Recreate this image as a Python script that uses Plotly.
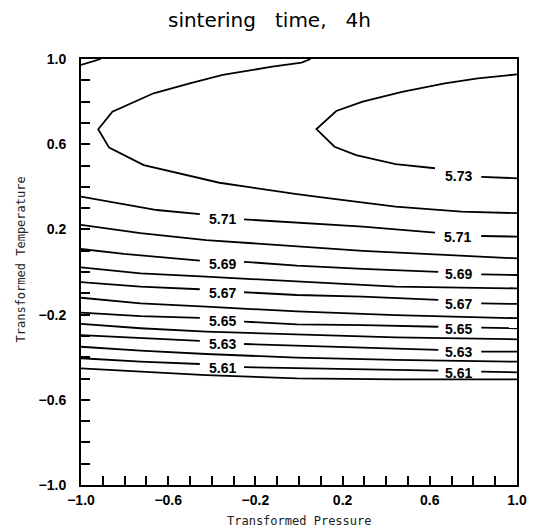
import plotly.graph_objects as go

# Contour lines (x = Transformed Pressure, y = Transformed Temperature)
# None marks a gap in the line where the level label sits.
corner_571_x = [-1.0, -0.931, -0.909]
corner_571_y = [0.972, 0.995, 1.0]

c572_x = [0.053, 0.012, -0.123, -0.350, -0.501, -0.667, -0.856, -0.921, -0.871, -0.712, -0.365, -0.169, -0.010, 0.141, 0.443, 0.745, 1.0]
c572_y = [1.0, 0.983, 0.964, 0.925, 0.886, 0.839, 0.753, 0.670, 0.584, 0.502, 0.419, 0.388, 0.366, 0.346, 0.307, 0.283, 0.276]

c573_x = [1.0, 0.820, 0.669, 0.473, 0.292, 0.171, 0.080, 0.163, 0.262, 0.443, 0.624, None, 0.836, 1.0]
c573_y = [0.928, 0.909, 0.886, 0.846, 0.800, 0.756, 0.671, 0.588, 0.549, 0.506, 0.487, None, 0.447, 0.440]

c571_x = [-1.0, -0.848, -0.652, -0.455, None, -0.252, -0.010, 0.292, 0.624, None, 0.836, 1.0]
c571_y = [0.354, 0.325, 0.291, 0.272, None, 0.247, 0.231, 0.213, 0.185, None, 0.169, 0.166]

c570_x = [-1.0, -0.727, -0.426, -0.199, 0.012, 0.292, 0.669, 1.0]
c570_y = [0.221, 0.182, 0.150, 0.135, 0.119, 0.099, 0.080, 0.064]

c569_x = [-1.0, -0.803, -0.455, None, -0.252, -0.010, 0.292, 0.639, None, 0.836, 1.0]
c569_y = [0.108, 0.085, 0.053, None, 0.048, 0.030, 0.015, 0.001, None, -0.011, -0.014]

c568_x = [-1.0, -0.727, -0.426, -0.010, 0.443, 1.0]
c568_y = [0.022, -0.006, -0.022, -0.046, -0.069, -0.077]

c567_x = [-1.0, -0.727, -0.455, None, -0.252, -0.010, 0.292, 0.639, None, 0.836, 1.0]
c567_y = [-0.048, -0.069, -0.081, None, -0.095, -0.108, -0.116, -0.131, None, -0.147, -0.150]

c566_x = [-1.0, -0.727, -0.426, -0.010, 0.443, 1.0]
c566_y = [-0.121, -0.147, -0.163, -0.185, -0.202, -0.217]

c565_x = [-1.0, -0.727, -0.455, None, -0.252, -0.010, 0.292, 0.639, None, 0.836, 1.0]
c565_y = [-0.191, -0.207, -0.215, None, -0.233, -0.246, -0.249, -0.257, None, -0.261, -0.264]

c564_x = [-1.0, -0.727, -0.426, -0.010, 0.443, 1.0]
c564_y = [-0.244, -0.264, -0.280, -0.294, -0.307, -0.316]

c563_x = [-1.0, -0.727, -0.455, None, -0.252, -0.010, 0.292, 0.639, None, 0.836, 1.0]
c563_y = [-0.296, -0.311, -0.323, None, -0.338, -0.347, -0.355, -0.366, None, -0.374, -0.374]

c562_x = [-1.0, -0.727, -0.426, -0.010, 0.443, 1.0]
c562_y = [-0.351, -0.369, -0.385, -0.402, -0.413, -0.421]

c561_x = [-1.0, -0.727, -0.455, None, -0.252, -0.010, 0.292, 0.639, None, 0.836, 1.0]
c561_y = [-0.405, -0.421, -0.432, None, -0.447, -0.452, -0.457, -0.463, None, -0.468, -0.471]

c560_x = [-1.0, -0.727, -0.426, -0.010, 0.443, 1.0]
c560_y = [-0.452, -0.468, -0.484, -0.499, -0.504, -0.504]

# Level labels
label_text = ["5.73", "5.71", "5.71", "5.69", "5.69", "5.67", "5.67",
              "5.65", "5.65", "5.63", "5.63", "5.61", "5.61"]
label_x = [0.733, -0.353, 0.725, -0.353, 0.73, -0.353, 0.73,
           -0.353, 0.73, -0.353, 0.73, -0.353, 0.73]
label_y = [0.455, 0.252, 0.169, 0.044, -0.005, -0.094, -0.144,
           -0.227, -0.263, -0.335, -0.372, -0.445, -0.470]

lines = [
    (corner_571_x, corner_571_y), (c572_x, c572_y), (c573_x, c573_y),
    (c571_x, c571_y), (c570_x, c570_y), (c569_x, c569_y), (c568_x, c568_y),
    (c567_x, c567_y), (c566_x, c566_y), (c565_x, c565_y), (c564_x, c564_y),
    (c563_x, c563_y), (c562_x, c562_y), (c561_x, c561_y), (c560_x, c560_y),
]

fig = go.Figure()
for lx, ly in lines:
    fig.add_trace(go.Scatter(x=lx, y=ly, mode="lines",
                             line=dict(color="black", width=1.8),
                             connectgaps=False, showlegend=False, hoverinfo="skip"))

label_font = dict(family="Liberation Sans, Arial", size=14, color="black", weight="bold")
for t, x, y in zip(label_text, label_x, label_y):
    fig.add_annotation(x=x, y=y, text=t, showarrow=False,
                       xanchor="center", yanchor="middle", yshift=-1,
                       font=label_font)

fig.add_annotation(xref="paper", yref="paper", x=0.5, y=-0.085,
                   text="Transformed Pressure", showarrow=False,
                   xanchor="center", yanchor="middle",
                   font=dict(family="DejaVu Sans Mono", size=12, color="#222"))
fig.add_annotation(xref="paper", yref="paper", x=-0.137, y=0.53,
                   text="Transformed Temperature", showarrow=False, textangle=-90,
                   xanchor="center", yanchor="middle",
                   font=dict(family="DejaVu Sans Mono", size=12, color="#222"))

axis_common = dict(
    range=[-1, 1], tick0=-1, dtick=0.4, tickformat=".1f",
    ticks="inside", ticklen=9, tickwidth=1.5, tickcolor="black",
    minor=dict(dtick=0.1, tick0=-1, ticks="inside", ticklen=9, tickwidth=1.5, tickcolor="black"),
    showline=True, linecolor="black", linewidth=2, mirror=True,
    showgrid=False, zeroline=False,
    tickfont=dict(family="Liberation Sans, Arial", size=14, color="black", weight="bold"),
)

title_text = "sintering&nbsp;&nbsp;&nbsp;time,&nbsp;&nbsp;&nbsp;4h"

fig.update_layout(
    width=539, height=531,
    margin=dict(l=81, r=16, t=59, b=46),
    paper_bgcolor="white", plot_bgcolor="white",
    title=dict(text=title_text, x=0.5, xref="container", xanchor="center",
               y=1 - 20 / 531, yref="container", yanchor="middle",
               font=dict(family="DejaVu Sans", size=20, color="black")),
    xaxis=dict(axis_common, ticklabelstandoff=1),
    yaxis=dict(axis_common, ticklabelstandoff=10),
)

fig.write_html("out.html")
